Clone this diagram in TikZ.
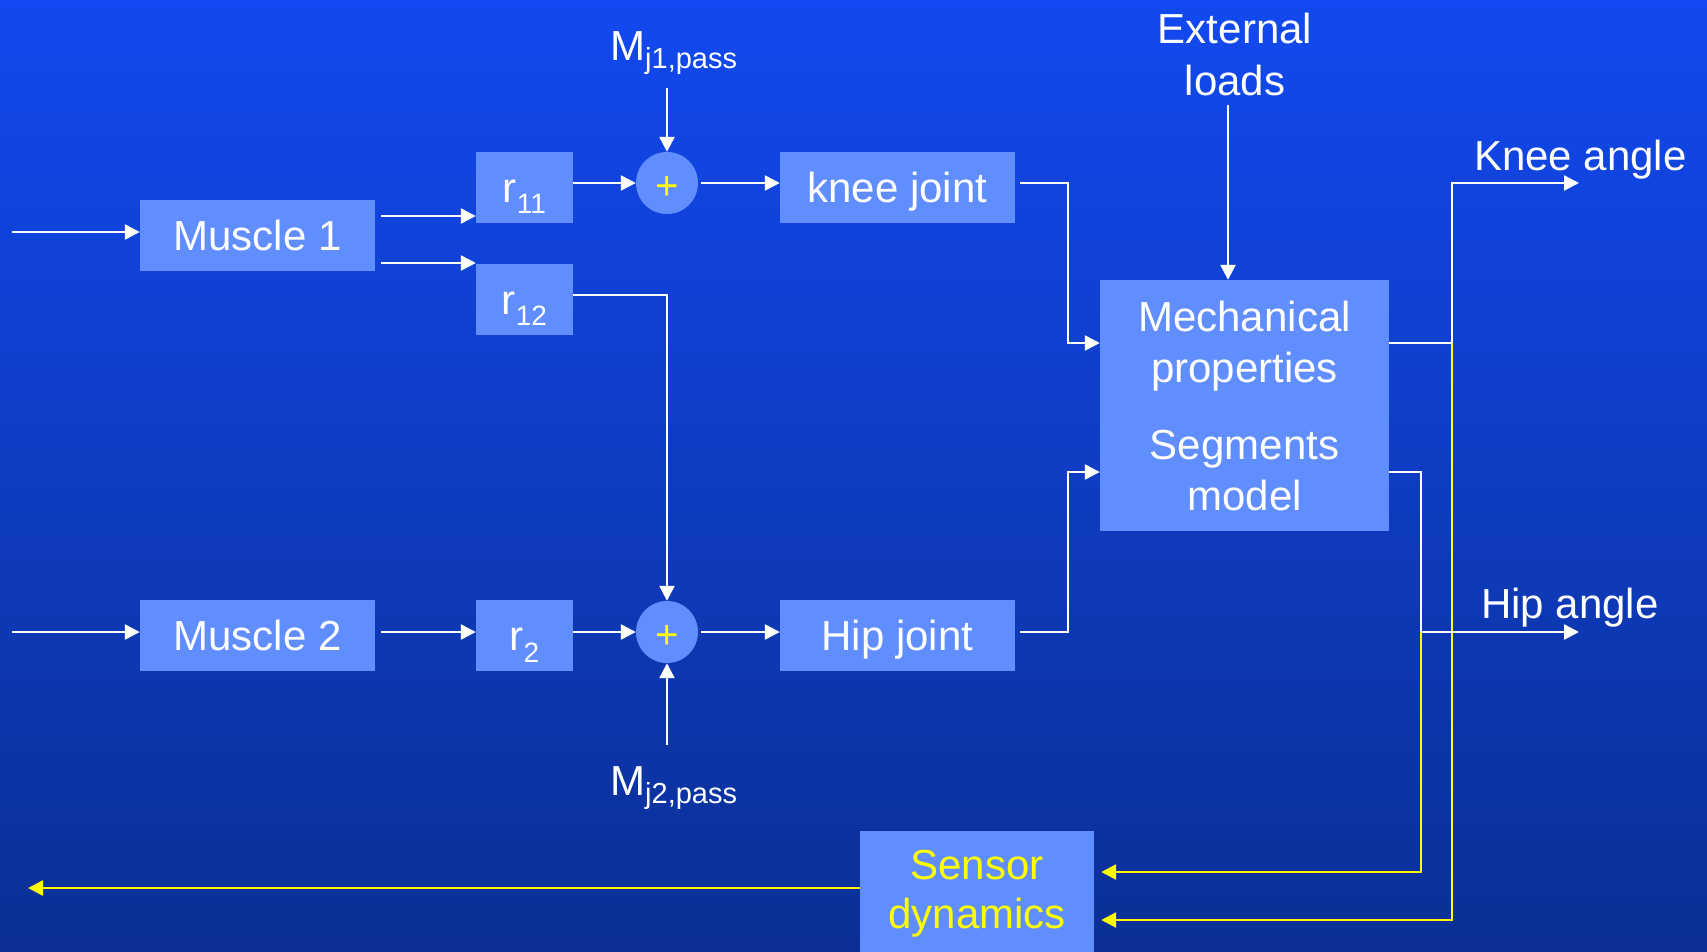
\documentclass[tikz,border=0pt]{standalone}
\usepackage{fontspec}
\setmainfont{Liberation Sans}
\usetikzlibrary{arrows.meta,calc}
\definecolor{bgtop}{RGB}{18,73,240}
\definecolor{bgbot}{RGB}{11,47,148}
\definecolor{boxfill}{RGB}{97,142,255}
\definecolor{ylw}{RGB}{255,255,0}
\newcommand\subsz{\fontsize{28}{28}\selectfont}
\newcommand\msubsz{\fontsize{29}{29}\selectfont}
\begin{document}
\begin{tikzpicture}[x=1pt,y=-1pt,
  blk/.style={draw=none, fill=boxfill, text=white, font=\fontsize{42}{50}\selectfont,
    inner sep=0pt, text height=29pt, text depth=0pt, minimum height=71pt, minimum width=235pt},
  bigbox/.style={draw=none, fill=boxfill, text=white, font=\fontsize{42}{51}\selectfont,
    inner sep=0pt, align=center},
  sumnode/.style={circle, fill=boxfill, minimum size=62pt, inner sep=0pt, text=ylw,
    font=\fontsize{40}{40}\selectfont, text height=33pt, text depth=0pt},
  lbl/.style={text=white, inner sep=0pt, font=\fontsize{42}{52}\selectfont},
  warr/.style={draw=white, line width=2.4pt, -{Triangle[length=15pt,width=15pt]}},
  wline/.style={draw=white, line width=2.4pt},
  yarr/.style={draw=ylw, line width=2.6pt, -{Triangle[length=15pt,width=15pt]}}
]
\useasboundingbox (0,0) rectangle (1707,951);
\shade[top color=bgtop, bottom color=bgbot] (0,0) rectangle (1707,951);

% blocks
\node[blk] (m1) at (257.5,235.5) {Muscle 1};
\node[blk, minimum width=97pt] (r11) at (524.5,187.5) {r\raisebox{-11pt}{\subsz 11}};
\node[blk, minimum width=97pt] (r12) at (524.5,299.5) {r\raisebox{-11pt}{\subsz 12}};
\node[sumnode] (s1) at (667,183) {+};
\node[blk] (knee) at (897.5,187.5) {knee joint};
\node[bigbox, minimum width=289pt, minimum height=251pt] (mech) at (1244.5,405.5)
  {Mechanical\\properties\\[26pt]Segments\\model};
\node[blk] (m2) at (257.5,635.5) {Muscle 2};
\node[blk, minimum width=97pt] (r2) at (524.5,635.5) {r\raisebox{-12pt}{\subsz 2}};
\node[sumnode] (s2) at (667,632) {+};
\node[blk] (hip) at (897.5,635.5) {Hip joint};
\node[bigbox, text=ylw, font=\fontsize{42}{49}\selectfont, minimum width=234pt, minimum height=126pt] (sens) at (977,894) {Sensor\\dynamics};

% labels
\node[lbl, anchor=base west] (mj1) at (610,60) {M\raisebox{-8pt}{\msubsz j1,pass}};
\node[lbl, anchor=base west] (mj2) at (610,795) {M\raisebox{-8pt}{\msubsz j2,pass}};
\node[lbl, align=center] (ext) at (1235,54) {External\\loads};
\node[lbl, anchor=base west] (kang) at (1474,170) {Knee angle};
\node[lbl, anchor=base west] (hang) at (1481,618) {Hip angle};

% free ends and junctions
\coordinate (in1) at (12,232);
\coordinate (in2) at (12,632);
\coordinate (ko) at (1579,183);
\coordinate (ho) at (1579,632);
\coordinate (yo) at (28,888);
\coordinate (kj) at (1452,343);
\coordinate (hj) at (1421,632);

% yellow feedback
\draw[yarr, shorten >=7pt] (hj) |- ([yshift=22pt]sens.east);
\draw[yarr, shorten >=7pt] (kj) |- ([yshift=-26pt]sens.east);
\draw[yarr] ([yshift=6pt]sens.west) -- (yo);

% white connectors
\draw[warr] (in1) -- (in1 -| m1.west);
\draw[warr] (in2) -- (in2 -| m2.west);
\draw[warr, shorten <=6pt] ([yshift=19.5pt]m1.east) -- ([yshift=19.5pt]m1.east -| r11.west);
\draw[warr, shorten <=6pt] ([yshift=-27.5pt]m1.east) -- ([yshift=-27.5pt]m1.east -| r12.west);
\draw[warr] (s1.west -| r11.east) -- (s1.west);
\draw[warr, shorten <=3pt] (s1.east) -- (s1.east -| knee.west);
\draw[warr, shorten <=14pt] (s1.north |- mj1.south) -- (s1.north);
\draw[warr] ([yshift=4.5pt]r12.east) -| (s2.north);
\draw[warr, shorten <=6pt] (m2.east |- s2.west) -- (r2.west |- s2.west);
\draw[warr] (r2.east |- s2.west) -- (s2.west);
\draw[warr, shorten <=3pt] (s2.east) -- (s2.east -| hip.west);
\draw[warr, shorten <=21pt] (s2.south |- mj2.north) -- (s2.south);
\draw[warr, shorten <=5pt] ([yshift=4.5pt]knee.east) -- ++(53,0) |- ([yshift=62.5pt]mech.west);
\draw[warr, shorten <=5pt] ([yshift=3.5pt]hip.east) -- ++(53,0) |- ([yshift=-66.5pt]mech.west);
\draw[warr, shorten <=9pt] ([xshift=-16.5pt]mech.north |- ext.south) -- ([xshift=-16.5pt]mech.north);
\draw[wline] ([yshift=62.5pt]mech.east) -- (kj);
\draw[warr] (kj) |- (ko);
\draw[wline] ([yshift=-66.5pt]mech.east) -| (hj);
\draw[warr] (hj) -- (ho);
\end{tikzpicture}
\end{document}
